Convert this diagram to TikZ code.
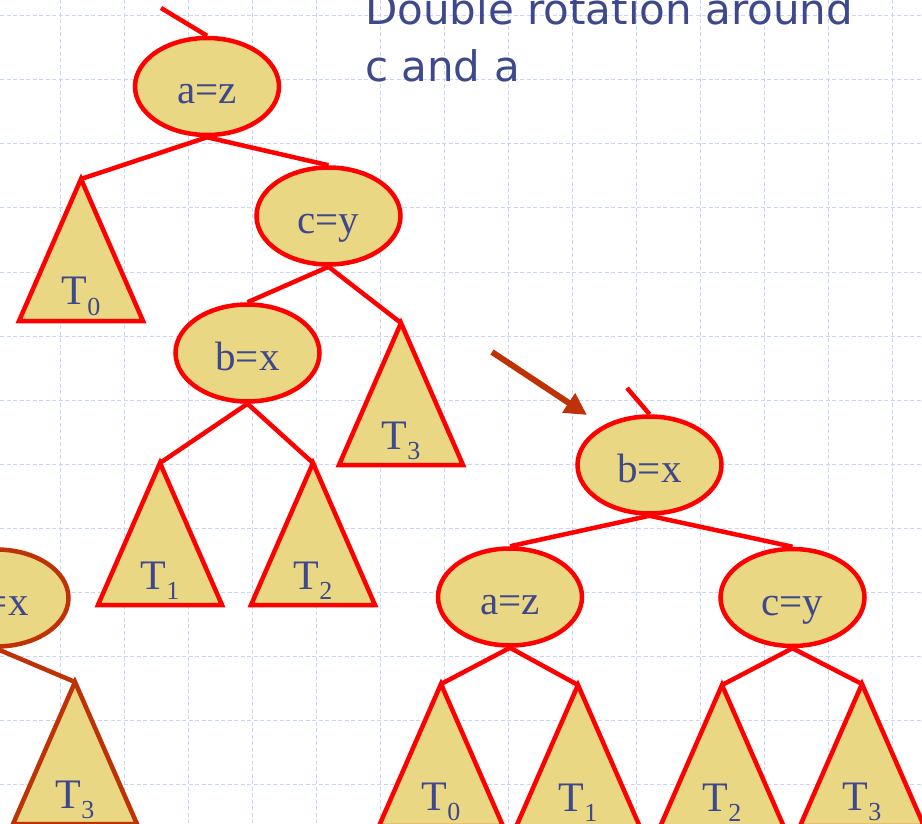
\documentclass[tikz,border=0pt]{standalone}
\usepackage{fontspec}
\setmainfont{Liberation Serif}
\newfontfamily\titlefont{DejaVu Sans}
\usetikzlibrary{shapes.geometric,arrows.meta,calc}
\definecolor{nodefill}{RGB}{234,215,132}
\definecolor{edgered}{RGB}{255,0,0}
\definecolor{darkred}{RGB}{190,50,5}
\definecolor{txtblue}{RGB}{62,72,140}
\definecolor{gridblue}{RGB}{200,213,248}
\newcommand\SubT[1]{T\raisebox{-10pt}{\fontsize{26}{26}\selectfont #1}}
\tikzset{
  gridline/.style={gridblue, line width=1pt, dash pattern=on 4pt off 2.5pt},
  keynode/.style={ellipse, draw=edgered, line width=4.5pt, fill=nodefill,
    minimum width=144pt, minimum height=97pt, inner sep=0pt,
    text=txtblue, font=\fontsize{41}{41}\selectfont, text height=35pt, text depth=0pt},
  oldnode/.style={keynode, draw=darkred},
  edge/.style={edgered, line width=4.5pt},
  oldedge/.style={darkred, line width=4.5pt},
  tri/.style={draw=edgered, line width=4.5pt, fill=nodefill},
  oldtri/.style={tri, draw=darkred},
  tlab/.style={text=txtblue, font=\fontsize{42}{42}\selectfont, anchor=base, inner sep=0pt},
  titletext/.style={text=txtblue, font=\titlefont\fontsize{42}{42}\selectfont, anchor=base west, inner sep=0pt},
  bigarrow/.style={darkred, line width=6pt, -{Triangle[length=22pt,width=22pt]}}
}
\newcommand\SubTree[3]{%
  \draw[#3] (#1) -- ++(-62,142) -- ++(124,0) -- cycle;
  \node[tlab] (#1lab) at ($(#1)+(0,126)$) {\SubT{#2}};}
\begin{document}
\begin{tikzpicture}[x=1pt,y=-1pt]
\useasboundingbox (0,0) rectangle (922,824);
\clip (0,0) rectangle (922,824);
\fill[white] (0,0) rectangle (922,824);
% grid
\foreach \gx in {-4,60,...,892} \draw[gridline] (\gx,0) -- (\gx,824);
\foreach \gy in {16,80,...,784} \draw[gridline] (0,\gy) -- (922,\gy);
% title
\node[titletext] (title1) at (365,25) {Double rotation around};
\node[titletext] (title2) at (365,82) {c and a};
% left tree
\node[keynode] (azL) at (207,86.5) {a=z};
\node[keynode] (cyL) at (328.5,216) {c=y};
\node[keynode] (bxL) at (247.5,353) {b=x};
\coordinate (pL) at (161,8);
\coordinate (t0L) at (81,179);
\coordinate (t3L) at (401,323);
\coordinate (t1L) at (160,463);
\coordinate (t2L) at (313,463);
\draw[edge] (pL) -- (azL.north);
\draw[edge] (azL.south) -- (t0L);
\draw[edge] (azL.south) -- (cyL.north);
\draw[edge] (cyL.south) -- (bxL.north);
\draw[edge] (cyL.south) -- (t3L);
\draw[edge] (bxL.south) -- (t1L);
\draw[edge] (bxL.south) -- (t2L);
\SubTree{t0L}{0}{tri}
\SubTree{t3L}{3}{tri}
\SubTree{t1L}{1}{tri}
\SubTree{t2L}{2}{tri}
% partial tree bottom left
\node[oldnode] (bxP) at (-3.5,598) {b=x};
\coordinate (t3P) at (75,682);
\draw[oldedge] (bxP.south) -- (t3P);
\SubTree{t3P}{3}{oldtri}
% arrow
\coordinate (arA) at (492,352);
\coordinate (arB) at (587,415);
\draw[bigarrow] (arA) -- (arB);
% right tree
\node[keynode] (bxR) at (649.5,465) {b=x};
\node[keynode] (azR) at (510,597) {a=z};
\node[keynode] (cyR) at (792.5,597.5) {c=y};
\coordinate (pR) at (627,388);
\coordinate (t0R) at (441,684);
\coordinate (t1R) at (578,685);
\coordinate (t2R) at (722,685);
\coordinate (t3R) at (862,684);
\draw[edge] (pR) -- (bxR.north);
\draw[edge] (bxR.south) -- (azR.north);
\draw[edge] (bxR.south) -- (cyR.north);
\draw[edge] (azR.south) -- (t0R);
\draw[edge] (azR.south) -- (t1R);
\draw[edge] (cyR.south) -- (t2R);
\draw[edge] (cyR.south) -- (t3R);
\SubTree{t0R}{0}{tri}
\SubTree{t1R}{1}{tri}
\SubTree{t2R}{2}{tri}
\SubTree{t3R}{3}{tri}
\end{tikzpicture}
\end{document}
